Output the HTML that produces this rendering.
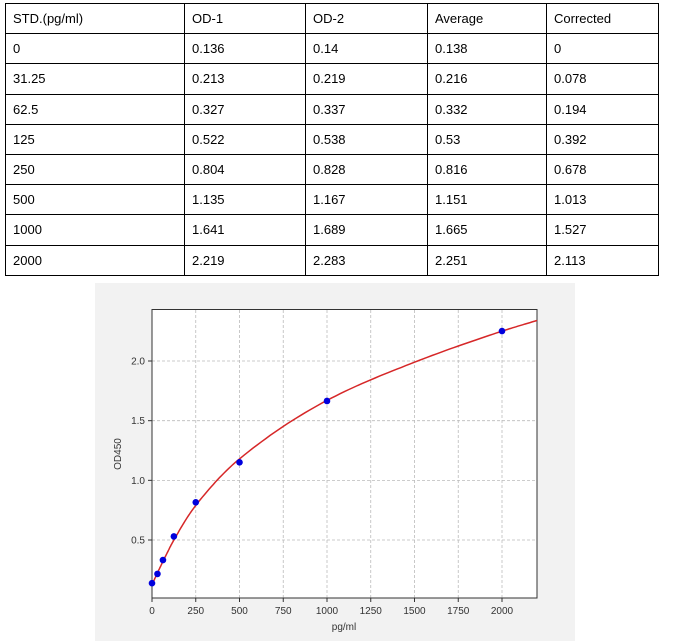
<!DOCTYPE html>
<html><head><meta charset="utf-8"><style>
body{margin:0;width:676px;height:643px;background:#fff;font-family:"Liberation Sans",sans-serif;position:relative;overflow:hidden}
table{position:absolute;left:5px;top:3px;border-collapse:collapse;font-family:"Liberation Sans",sans-serif;font-size:13px;color:#000}
td{border:1px solid #000;height:30.2px;padding:0 0 0 7px;box-sizing:border-box}
</style></head><body>
<table>
<colgroup><col style="width:179px"><col style="width:121px"><col style="width:122px"><col style="width:119px"><col style="width:112px"></colgroup>
<tr><td>STD.(pg/ml)</td><td>OD-1</td><td>OD-2</td><td>Average</td><td>Corrected</td></tr>
<tr><td>0</td><td>0.136</td><td>0.14</td><td>0.138</td><td>0</td></tr>
<tr><td>31.25</td><td>0.213</td><td>0.219</td><td>0.216</td><td>0.078</td></tr>
<tr><td>62.5</td><td>0.327</td><td>0.337</td><td>0.332</td><td>0.194</td></tr>
<tr><td>125</td><td>0.522</td><td>0.538</td><td>0.53</td><td>0.392</td></tr>
<tr><td>250</td><td>0.804</td><td>0.828</td><td>0.816</td><td>0.678</td></tr>
<tr><td>500</td><td>1.135</td><td>1.167</td><td>1.151</td><td>1.013</td></tr>
<tr><td>1000</td><td>1.641</td><td>1.689</td><td>1.665</td><td>1.527</td></tr>
<tr><td>2000</td><td>2.219</td><td>2.283</td><td>2.251</td><td>2.113</td></tr>
</table>
<svg id="s" width="676" height="643" style="position:absolute;left:0;top:0" font-family="Liberation Sans, sans-serif" font-size="10" fill="#333">
<rect x="95" y="283" width="480" height="358" fill="#f2f2f2"/>
<rect x="152" y="309.5" width="385" height="288.5" fill="#fff"/>
<g id="grid" stroke="#bbb" stroke-dasharray="3,2" stroke-width="0.8"></g>
<rect x="152" y="309.5" width="385" height="288.5" fill="none" stroke="#333" stroke-width="1"/>
<g id="ticks"></g>
<path id="curve" fill="none" stroke="#d62728" stroke-width="1.5"/>
<g id="pts" fill="#0000dd"></g>
<text x="344" y="630" text-anchor="middle">pg/ml</text>
<text transform="translate(121,454) rotate(-90)" text-anchor="middle">OD450</text>
</svg>
<script>
var X=function(x){return 152+x*0.175},Y=function(y){return 598-(y-0.014)*119.33};
var g=document.getElementById('grid'),t=document.getElementById('ticks'),h='',th='';
for(var v=0;v<=2000;v+=250){var px=X(v);h+='<line x1="'+px+'" x2="'+px+'" y1="310" y2="598"/>';th+='<line x1="'+px+'" x2="'+px+'" y1="598" y2="602" stroke="#333"/><text x="'+px+'" y="614" text-anchor="middle">'+v+'</text>';}
[0.5,1.0,1.5,2.0].forEach(function(v){var py=Y(v);h+='<line x1="152" x2="537" y1="'+py+'" y2="'+py+'"/>';th+='<line x1="148" x2="152" y1="'+py+'" y2="'+py+'" stroke="#333"/><text x="145" y="'+(py+3.5)+'" text-anchor="end">'+v.toFixed(1)+'</text>';});
g.innerHTML=h;t.innerHTML=th;
var d=[[0,0.138],[31.25,0.216],[62.5,0.332],[125,0.53],[250,0.816],[500,1.151],[1000,1.665],[2000,2.251]];
var p='';d.forEach(function(a){p+='<circle cx="'+X(a[0])+'" cy="'+Y(a[1])+'" r="3.3"/>';});
document.getElementById('pts').innerHTML=p;
// smooth curve points
var k=[[0,0.125],[31.25,0.225],[62.5,0.32],[125,0.50],[250,0.79],[500,1.18],[1000,1.67],[1500,1.99],[2000,2.25],[2200,2.34]];
var n=k.length,m=[],dl=[];
for(var i=0;i<n-1;i++)dl.push((k[i+1][1]-k[i][1])/(k[i+1][0]-k[i][0]));
m[0]=dl[0];m[n-1]=dl[n-2];
for(i=1;i<n-1;i++){var a=dl[i-1],b=dl[i];m[i]=(a*b<=0)?0:2/(1/a+1/b);}
var s='';
for(i=0;i<n-1;i++){var x0=k[i][0],x1=k[i+1][0],hh=x1-x0;
 for(var j=0;j<=20;j++){var tt=j/20,t2=tt*tt,t3=t2*tt;
  var y=(2*t3-3*t2+1)*k[i][1]+(t3-2*t2+tt)*hh*m[i]+(-2*t3+3*t2)*k[i+1][1]+(t3-t2)*hh*m[i+1];
  var x=x0+tt*hh;s+=(s?'L':'M')+X(x).toFixed(1)+','+Y(y).toFixed(1);}}
document.getElementById('curve').setAttribute('d',s);
</script>
</body></html>
